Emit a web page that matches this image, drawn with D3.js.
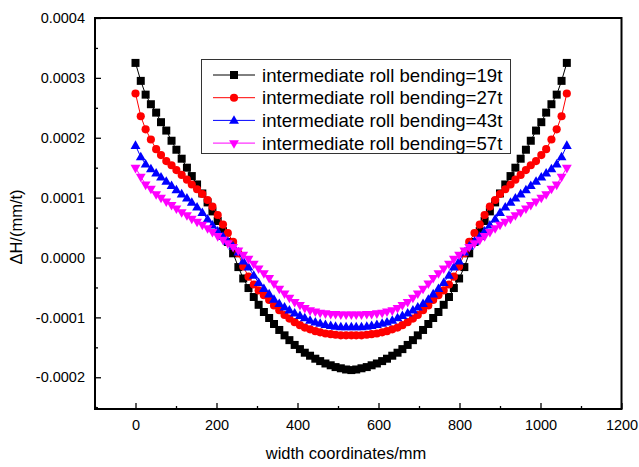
<!DOCTYPE html>
<html>
<head>
<meta charset="utf-8">
<script src="https://cdn.jsdelivr.net/npm/d3@7/dist/d3.min.js"></script>
<style>
  html, body { margin: 0; padding: 0; background: #fff; }
  svg { display: block; font-family: Arial, "Liberation Sans", sans-serif; }
</style>
</head>
<body>
<svg id="chart" width="639" height="467"></svg>
<script>
// ---- data (ΔH in units of 1e-4 mm/t) ----
const widthCoords = [0, 13, 25, 38, 51, 63, 76, 89, 101, 114, 127, 139, 152, 165, 178, 190, 203, 216, 228, 241,
  254, 266, 279, 292, 304, 317, 330, 342, 355, 368, 380, 393, 406, 418, 431, 444, 456, 469, 482, 494,
  507, 520, 533, 545, 558, 571, 583, 596, 609, 621, 634, 647, 659, 672, 685, 697, 710, 723, 735, 748,
  761, 774, 786, 799, 812, 824, 837, 850, 862, 875, 888, 900, 913, 926, 938, 951, 964, 976, 989, 1002,
  1014, 1027, 1040, 1052, 1065];

const bend19 = [3.25, 2.95, 2.72, 2.56, 2.42, 2.26, 2.12, 1.95, 1.80, 1.65, 1.50, 1.36, 1.22, 1.07, 0.92, 0.77, 0.61, 0.44, 0.26, 0.07,
  -0.16, -0.35, -0.51, -0.66, -0.79, -0.91, -1.01, -1.11, -1.21, -1.30, -1.38, -1.46, -1.53, -1.59, -1.64, -1.69, -1.73, -1.77, -1.80, -1.83,
  -1.85, -1.87, -1.88, -1.87, -1.85, -1.83, -1.80, -1.77, -1.73, -1.69, -1.64, -1.59, -1.53, -1.46, -1.38, -1.30, -1.21, -1.11, -1.01, -0.91,
  -0.79, -0.66, -0.51, -0.35, -0.16, 0.07, 0.26, 0.44, 0.61, 0.77, 0.92, 1.07, 1.22, 1.36, 1.50, 1.65, 1.80, 1.95, 2.12, 2.26,
  2.42, 2.56, 2.72, 2.95, 3.25];

const bend27 = [2.74, 2.36, 2.14, 1.97, 1.81, 1.71, 1.61, 1.54, 1.46, 1.38, 1.30, 1.22, 1.14, 1.06, 0.96, 0.85, 0.71, 0.55, 0.41, 0.26,
  0.07, -0.15, -0.32, -0.45, -0.55, -0.63, -0.71, -0.80, -0.88, -0.96, -1.02, -1.08, -1.13, -1.17, -1.20, -1.23, -1.25, -1.27, -1.28, -1.29,
  -1.30, -1.30, -1.30, -1.30, -1.30, -1.29, -1.28, -1.27, -1.25, -1.23, -1.20, -1.17, -1.13, -1.08, -1.02, -0.96, -0.88, -0.80, -0.71, -0.63,
  -0.55, -0.45, -0.32, -0.15, 0.07, 0.26, 0.41, 0.55, 0.71, 0.85, 0.96, 1.06, 1.14, 1.22, 1.30, 1.38, 1.46, 1.54, 1.61, 1.71,
  1.81, 1.97, 2.14, 2.36, 2.74];

const bend43 = [1.87, 1.68, 1.56, 1.48, 1.41, 1.34, 1.27, 1.20, 1.13, 1.06, 0.99, 0.92, 0.84, 0.75, 0.64, 0.54, 0.44, 0.35, 0.27, 0.19,
  0.09, -0.06, -0.16, -0.30, -0.42, -0.52, -0.61, -0.70, -0.77, -0.83, -0.88, -0.93, -0.97, -1.01, -1.05, -1.08, -1.10, -1.12, -1.14, -1.15,
  -1.16, -1.16, -1.16, -1.16, -1.16, -1.15, -1.14, -1.12, -1.10, -1.08, -1.05, -1.01, -0.97, -0.93, -0.88, -0.83, -0.77, -0.70, -0.61, -0.52,
  -0.42, -0.30, -0.16, -0.06, 0.09, 0.19, 0.27, 0.35, 0.44, 0.54, 0.64, 0.75, 0.84, 0.92, 0.99, 1.06, 1.13, 1.20, 1.27, 1.34,
  1.41, 1.48, 1.56, 1.68, 1.87];

const bend57 = [1.50, 1.35, 1.22, 1.15, 1.06, 1.00, 0.94, 0.88, 0.82, 0.76, 0.71, 0.65, 0.60, 0.55, 0.49, 0.43, 0.36, 0.30, 0.24, 0.18,
  0.12, 0.05, -0.02, -0.10, -0.18, -0.26, -0.34, -0.43, -0.52, -0.60, -0.67, -0.74, -0.79, -0.84, -0.88, -0.90, -0.92, -0.93, -0.94, -0.94,
  -0.95, -0.95, -0.95, -0.95, -0.95, -0.94, -0.94, -0.93, -0.92, -0.90, -0.88, -0.84, -0.79, -0.74, -0.67, -0.60, -0.52, -0.43, -0.34, -0.26,
  -0.18, -0.10, -0.02, 0.05, 0.12, 0.18, 0.24, 0.30, 0.36, 0.43, 0.49, 0.55, 0.60, 0.65, 0.71, 0.76, 0.82, 0.88, 0.94, 1.00,
  1.06, 1.15, 1.22, 1.35, 1.50];

const seriesNames = ["intermediate roll bending=19t", "intermediate roll bending=27t",
                     "intermediate roll bending=43t", "intermediate roll bending=57t"];
const seriesValues = [bend19, bend27, bend43, bend57];
const seriesColors = ["#000000", "#ff0000", "#0000ff", "#ff00ff"];
const seriesSymbols = ["square", "circle", "triangleUp", "triangleDown"];

const xMajorTicks = [0, 200, 400, 600, 800, 1000, 1200];
const xMinorTicks = [-100, 100, 300, 500, 700, 900, 1100];
const yMajorTicks = [-0.0002, -0.0001, 0, 0.0001, 0.0002, 0.0003, 0.0004];
const yMinorTicks = [-0.00025, -0.00015, -0.00005, 0.00005, 0.00015, 0.00025, 0.00035];
const xTitle = "width coordinates/mm";
const yTitle = "ΔH/(mm/t)";

// ---- layout ----
const L = 95, R = 621.5, T = 18, B = 409;
const svg = d3.select("#chart");
const x = d3.scaleLinear().domain([-100, 1200]).range([L, R]);
const y = d3.scaleLinear().domain([-0.000253, 0.0004]).range([B, T]);

const fmtY = v => (Math.abs(v) < 1e-12 ? "0.0000" : v.toFixed(4));

// axes (ticks inward)
const gx = svg.append("g").attr("transform", `translate(0,${B})`)
  .call(d3.axisBottom(x).tickValues(xMajorTicks).tickSize(-6).tickPadding(10.5).tickFormat(d3.format("d")));
const gxm = svg.append("g").attr("transform", `translate(0,${B})`)
  .call(d3.axisBottom(x).tickValues(xMinorTicks).tickSize(-3).tickFormat(""));
const gy = svg.append("g").attr("transform", `translate(${L},0)`)
  .call(d3.axisLeft(y).tickValues(yMajorTicks).tickSize(-6).tickPadding(10).tickFormat(fmtY));
const gym = svg.append("g").attr("transform", `translate(${L},0)`)
  .call(d3.axisLeft(y).tickValues(yMinorTicks).tickSize(-3).tickFormat(""));

[gx, gxm, gy, gym].forEach(g => {
  g.select(".domain").remove();
  g.selectAll(".tick line").attr("stroke", "#000").attr("stroke-width", 1.3);
  g.selectAll(".tick text").attr("fill", "#000").style("font-size", "14.5px")
    .style("font-family", "Arial, 'Liberation Sans', sans-serif");
});

// frame
svg.append("rect").attr("x", L).attr("y", T).attr("width", R - L).attr("height", B - T)
  .attr("fill", "none").attr("stroke", "#000").attr("stroke-width", 2);

// titles
svg.append("text").attr("x", 346).attr("y", 459).attr("text-anchor", "middle")
  .style("font-size", "16.5px").attr("fill", "#000").text(xTitle);
svg.append("text").attr("transform", "translate(22,227) rotate(-90)").attr("text-anchor", "middle")
  .style("font-size", "16.5px").attr("fill", "#000").text(yTitle);

// symbols
function symbolPath(kind) {
  if (kind === "square") return d3.symbol(d3.symbolSquare, 64)();
  if (kind === "circle") return d3.symbol(d3.symbolCircle, 52)();
  return d3.symbol(d3.symbolTriangle, 42)();
}
function symbolTransform(kind, px, py) {
  if (kind === "triangleDown") return `translate(${px},${py}) rotate(180)`;
  if (kind === "triangleUp") return `translate(${px},${py + 0.5})`;
  return `translate(${px},${py})`;
}

const line = d3.line().x(d => x(d[0])).y(d => y(d[1]));

seriesValues.forEach((vals, si) => {
  const pts = widthCoords.map((w, i) => [w, vals[i] * 1e-4]);
  const g = svg.append("g");
  g.append("path").datum(pts).attr("d", line).attr("fill", "none")
    .attr("stroke", seriesColors[si]).attr("stroke-width", 1);
  g.selectAll("path.m").data(pts).enter().append("path").attr("class", "m")
    .attr("d", symbolPath(seriesSymbols[si]))
    .attr("transform", d => symbolTransform(seriesSymbols[si], x(d[0]), y(d[1])))
    .attr("fill", seriesColors[si]);
});

// legend
const lg = svg.append("g");
lg.append("rect").attr("x", 201.5).attr("y", 59.5).attr("width", 309).attr("height", 94)
  .attr("fill", "#fff").attr("stroke", "#333").attr("stroke-width", 1);
seriesNames.forEach((name, i) => {
  const ry = 75 + i * 22.7;
  lg.append("line").attr("x1", 213).attr("x2", 255).attr("y1", ry).attr("y2", ry)
    .attr("stroke", seriesColors[i]).attr("stroke-width", 1);
  lg.append("path").attr("d", symbolPath(seriesSymbols[i]))
    .attr("transform", symbolTransform(seriesSymbols[i], 234, ry)).attr("fill", seriesColors[i]);
  lg.append("text").attr("x", 262).attr("y", ry).attr("dy", "0.36em")
    .style("font-size", "18.6px").attr("fill", "#000").text(name);
});
</script>
</body>
</html>
